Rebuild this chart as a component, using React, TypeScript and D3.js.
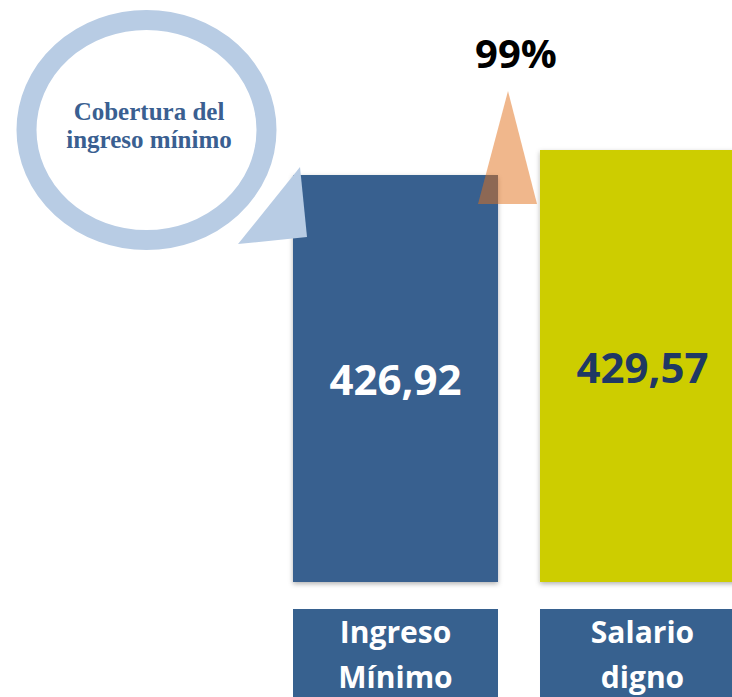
import React from "react";
import * as d3 from "d3";

const categories = ["Ingreso Mínimo", "Salario digno"];
const categoryLines = [["Ingreso", "Mínimo"], ["Salario", "digno"]];
const values = [426.92, 429.57];
const valueLabels = ["426,92", "429,57"];
const bubbleLines = ["Cobertura del", "ingreso mínimo"];

const W = 732;
const H = 697;

export default function App() {
  const x = d3.scaleBand<string>().domain(categories).range([293, 745]).paddingInner(0.17).paddingOuter(0);
  const y = d3.scaleLinear().domain([383.8, 429.57]).range([582, 150]);
  const bw = x.bandwidth();
  const pct = d3.format(".0%")(values[0] / values[1]);
  const barColors = ["#37618f", "#cdcd00"];
  const valueColors = ["#ffffff", "#1f3864"];

  const x0 = x(categories[0])!;
  const gapMid = x0 + bw + 10;
  const triTop = y(values[1]) - 59;
  const triBase = y(values[0]) + 29;

  return (
    <svg width={W} height={H} style={{ position: "absolute", left: 0, top: 0 }}>
      <defs>
        <filter id="sh" x="-10%" y="-10%" width="120%" height="130%">
          <feDropShadow dx="0" dy="2" stdDeviation="2.5" floodColor="#000" floodOpacity="0.3" />
        </filter>
      </defs>
      <rect width={W} height={H} fill="#fff" />
      {categories.map((c, i) => (
        <rect key={c} x={x(c)} y={y(values[i])} width={bw} height={y.range()[0] - y(values[i])} fill={barColors[i]} filter="url(#sh)" />
      ))}
      {categories.map((c, i) => (
        <g key={"lab" + c}>
          <rect x={x(c)} y={609} width={bw} height={100} fill="#37618f" />
          {categoryLines[i].map((t, j) => (
            <text key={t} x={x(c)! + bw / 2} y={643 + j * 45} textAnchor="middle" fill="#fff"
              fontFamily="'Open Sans', sans-serif" fontWeight={700} fontSize={30}>{t}</text>
          ))}
        </g>
      ))}
      {categories.map((c, i) => (
        <text key={"v" + c} x={x(c)! + bw / 2} y={i === 0 ? 395 : 383} textAnchor="middle" fill={valueColors[i]}
          fontFamily="'Open Sans', sans-serif" fontWeight={700} fontSize={42}>{valueLabels[i]}</text>
      ))}
      <polygon points={`${gapMid - 30},${triBase} ${gapMid},${triTop} ${gapMid + 29},${triBase}`} fill="#e2701a" fillOpacity={0.5} />
      <text x={516} y={68} textAnchor="middle" fill="#000" fontFamily="'Open Sans', sans-serif" fontWeight={700} fontSize={40}>{pct}</text>
      <ellipse cx={146.5} cy={130} rx={120} ry={110} fill="#fff" stroke="#b8cce4" strokeWidth={20} />
      <polygon points={`238,244 ${x0 + 7},167 ${x0 + 14},237`} fill="#b8cce4" />
      {bubbleLines.map((t, j) => (
        <text key={t} x={149} y={120 + j * 28} textAnchor="middle" fill="#3a5f91"
          fontFamily="'Liberation Serif', serif" fontWeight={700} fontSize={25}>{t}</text>
      ))}
    </svg>
  );
}
